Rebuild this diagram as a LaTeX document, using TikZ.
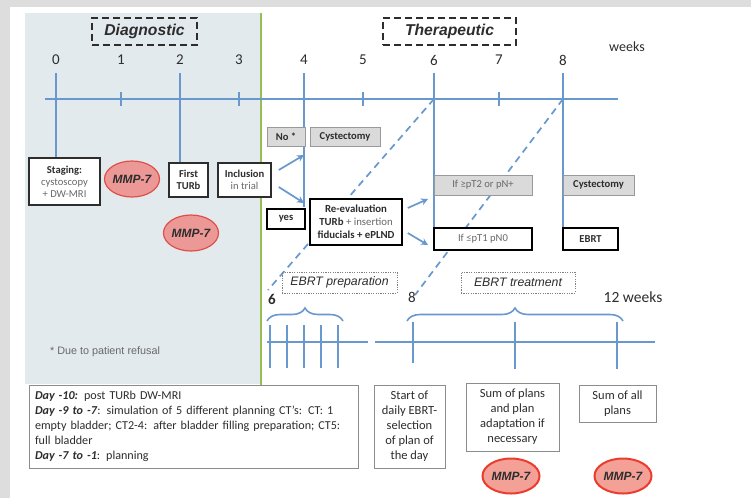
\documentclass[tikz,border=0pt]{standalone}
\usepackage{fontspec}
\setmainfont{Carlito}
\newfontfamily\arialf{Liberation Sans}
\usetikzlibrary{shapes.geometric,decorations.pathreplacing,arrows.meta}
\definecolor{tl}{RGB}{104,152,206}
\definecolor{panel}{RGB}{227,234,238}
\definecolor{frame}{RGB}{221,221,221}
\definecolor{grn}{RGB}{150,190,80}
\definecolor{gbox}{RGB}{218,218,218}
\definecolor{mmpfill}{RGB}{236,152,150}
\definecolor{mmpdraw}{RGB}{222,80,70}
\definecolor{mmpdrawb}{RGB}{235,60,45}
\definecolor{mmpfillb}{RGB}{243,160,150}
\definecolor{txtgray}{RGB}{105,105,105}
\definecolor{dk}{RGB}{45,45,45}
\tikzset{
  tline/.style={draw=tl, line width=1.7pt},
  tarrow/.style={draw=tl, line width=1.7pt, -{Stealth[length=7pt,width=7pt]}},
  tdash/.style={draw=tl, line width=1.7pt, dash pattern=on 7pt off 5pt},
  tbrace/.style={draw=tl, line width=1.6pt, decorate, decoration={brace, amplitude=13pt}},
  boxd/.style={draw=dk, line width=1.5pt, fill=white, align=center, inner sep=0pt, text=dk, font=\fontsize{10.6}{12}\selectfont},
  boxk/.style={draw=black, line width=1.5pt, fill=white, align=center, inner sep=0pt, text=dk, font=\fontsize{10.6}{12}\selectfont},
  boxg/.style={draw=gray!80, line width=1pt, fill=gbox, align=center, inner sep=0pt, text=dk, font=\fontsize{10.6}{12}\selectfont},
  boxb/.style={draw=gray!90, line width=1pt, fill=white, align=center, inner sep=0pt, text=dk, font=\fontsize{12.5}{15}\selectfont},
  mmp/.style={ellipse, draw=mmpdraw, fill=mmpfill, line width=1.2pt, inner sep=0pt, minimum width=55pt, minimum height=36pt, text=dk, font=\arialf\bfseries\itshape\fontsize{12}{12}\selectfont},
  mmpb/.style={mmp, draw=mmpdrawb, fill=mmpfillb, line width=2pt, minimum width=57pt, minimum height=35pt},
  phase/.style={draw=dk, line width=1.5pt, dash pattern=on 7pt off 4pt, inner sep=0pt, text=dk, font=\arialf\bfseries\itshape\fontsize{15.7}{16}\selectfont},
  subphase/.style={draw=gray, line width=0.8pt, dash pattern=on 1.2pt off 1.2pt, inner sep=0pt, text=dk, font=\arialf\itshape\fontsize{12.3}{13}\selectfont},
  wk/.style={text=dk, font=\fontsize{15}{15}\selectfont},
}
\begin{document}
\begin{tikzpicture}[x=1pt,y=-1pt]
\useasboundingbox (0,0) rectangle (751,498);
\fill[frame] (0,0) rectangle (751,498);
\fill[white] (10,7) rectangle (751,498);
\fill[panel] (25,13) rectangle (261,384);
\draw[grn, line width=1.8pt] (261,13) -- (261,385);

% phase labels
\node[phase, minimum width=105pt, minimum height=27pt] (diag) at (144.5,31.5) {Diagnostic};
\node[phase, minimum width=133pt, minimum height=27pt] (ther) at (449.5,31.5) {Therapeutic};

% week labels
\foreach \n/\x in {0/56,1/121,2/180,3/239,4/304,5/363,6/434,7/499,8/563}{
  \node[wk] (lab\n) at (\x,60) {\n};
  \coordinate (w\n) at (\x,99);
  \coordinate (t\n) at (\x,73);
}
\node[wk, font=\fontsize{14}{14}\selectfont] (weeks) at (627,47) {weeks};

% main timeline
\coordinate (tlA) at (45,99);
\coordinate (tlB) at (618,99);
\draw[tline] (tlA) -- (tlB);
\foreach \n in {1,3,5,7}{
  \draw[tline] ([yshift=-7pt]w\n) -- ([yshift=7pt]w\n);
}

% long ticks (drawn before boxes so boxes cover ends)
\coordinate (e0) at (56,160);
\coordinate (e2) at (180,164);
\coordinate (e4) at (304,207);
\coordinate (e6) at (434,238);
\coordinate (e8) at (563,238);
\foreach \n in {0,2,4,6,8}{
  \draw[tline] (t\n) -- (e\n);
}

% dashed links to lower timeline (behind boxes)
\coordinate (d6) at (268,290);
\coordinate (d8) at (415,295);
\draw[tdash] (w6) -- (d6);
\draw[tdash] (w8) -- (d8);

% boxes
\node[boxd, minimum width=71pt, minimum height=47pt] (staging) at (64.5,181.5)
  {\textbf{Staging:}\\{\color{txtgray}cystoscopy}\\{\color{txtgray}+ DW-MRI}};
\node[boxd, minimum width=39pt, minimum height=34pt] (turb) at (188.5,180)
  {\textbf{First}\\\textbf{TURb}};
\node[boxd, minimum width=53pt, minimum height=34pt] (incl) at (244.5,180)
  {\textbf{Inclusion}\\{\color{txtgray}in trial}};
\node[mmp] (mmp1) at (132,179) {MMP-7};
\node[mmp] (mmp2) at (191,233) {MMP-7};

\node[boxg, minimum width=38pt, minimum height=19pt] (no) at (286,136.5) {\textbf{No *}};
\node[boxg, minimum width=70pt, minimum height=19pt] (cyst1) at (345,136.5) {\textbf{Cystectomy}};
\node[boxk, minimum width=38pt, minimum height=20pt] (yes) at (286,219) {\textbf{yes}};
\node[boxk, minimum width=92pt, minimum height=46pt, font=\fontsize{10.8}{13}\selectfont] (reeval) at (356,222)
  {\textbf{Re-evaluation}\\\textbf{TURb} {\color{txtgray}+ insertion}\\\textbf{fiducials + ePLND}};
\node[boxg, minimum width=98pt, minimum height=20pt, text=txtgray] (ifge) at (483,185) {If ≥pT2 or pN+};
\node[boxg, minimum width=71pt, minimum height=20pt] (cyst2) at (598.5,185) {\textbf{Cystectomy}};
\node[boxk, minimum width=98pt, minimum height=22pt, text=txtgray] (ifle) at (483,239) {If ≤pT1 pN0};
\node[boxk, minimum width=55pt, minimum height=22pt] (ebrt) at (590.5,239) {\textbf{EBRT}};

% arrows
\coordinate (a1e) at (304,155);
\coordinate (a2e) at (304,203);
\draw[tarrow] ([xshift=7pt,yshift=10pt]incl.east) -- (a1e);
\draw[tarrow] ([xshift=7pt,yshift=-7pt]incl.east) -- (a2e);
\coordinate (a3e) at (428,199);
\coordinate (a4e) at (428,245);
\draw[tarrow] ([xshift=5pt,yshift=14pt]reeval.east) -- (a3e);
\draw[tarrow] ([xshift=5pt,yshift=-11pt]reeval.east) -- (a4e);

% lower section
\node[subphase, minimum width=115pt, minimum height=21pt] (prep) at (339.5,282.5) {EBRT preparation};
\node[subphase, minimum width=114pt, minimum height=21pt] (treat) at (518,282.5) {EBRT treatment};
\node[text=dk, font=\bfseries\fontsize{15}{15}\selectfont] (l6) at (272,299) {6};
\node[text=dk, font=\fontsize{15}{15}\selectfont] (l8) at (412,297) {8};
\node[text=dk, font=\fontsize{15.5}{15}\selectfont] (l12) at (633,297) {12 weeks};

\coordinate (bp1) at (267,321);
\coordinate (bp2) at (343,321);
\draw[tbrace] (bp1) -- (bp2);
\coordinate (bt1) at (407,321);
\coordinate (bt2) at (623,321);
\draw[tbrace] (bt1) -- (bt2);

\coordinate (lA1) at (267,342);
\coordinate (lA2) at (368,342);
\coordinate (lB1) at (375,342);
\coordinate (lB2) at (655,342);
\draw[tline] (lA1) -- (lA2);
\draw[tline] (lB1) -- (lB2);
\foreach \x in {270,287,304,321,338}{
  \draw[tline] (\x,325) -- (\x,368);
}
\coordinate (k8a) at (413,322); \coordinate (k8b) at (413,363);
\coordinate (k10a) at (515,322); \coordinate (k10b) at (515,369);
\coordinate (k12a) at (617,322); \coordinate (k12b) at (617,369);
\draw[tline] (k8a) -- (k8b);
\draw[tline] (k10a) -- (k10b);
\draw[tline] (k12a) -- (k12b);

\node[text=txtgray, font=\arialf\fontsize{10.8}{12}\selectfont] (refusal) at (105,352) {* Due to patient refusal};

% bottom boxes
\node[boxb, font=\fontsize{12.1}{15}\selectfont, align=left, text width=317pt, inner xsep=6pt, minimum height=83pt] (days) at (193.5,426.5)
  {\textbf{\textit{Day -10:}} post TURb DW-MRI\\
   \textbf{\textit{Day -9 to -7}}: simulation of 5 different planning CT's: CT: 1\\
   empty bladder; CT2-4: after bladder filling preparation; CT5:\\
   full bladder\\
   \textbf{\textit{Day -7 to -1}}: planning};
\node[boxb, minimum width=71pt, minimum height=83pt] (start) at (409.5,426.5)
  {Start of\\daily EBRT-\\selection\\of plan of\\the day};
\node[boxb, minimum width=93pt, minimum height=68pt] (sump) at (512.5,417)
  {Sum of plans\\and plan\\adaptation if\\necessary};
\node[boxb, minimum width=77pt, minimum height=37pt] (suma) at (617.5,403.5)
  {Sum of all\\plans};
\node[mmpb] (mmp3) at (511,476) {MMP-7};
\node[mmpb] (mmp4) at (623,476) {MMP-7};
\end{tikzpicture}
\end{document}
